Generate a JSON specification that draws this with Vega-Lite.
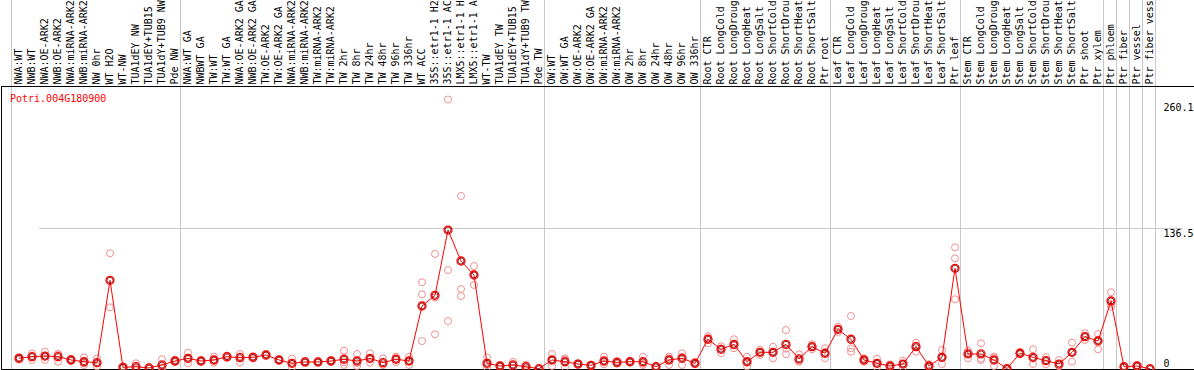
{
  "$schema": "https://vega.github.io/schema/vega-lite/v6.json",
  "width": 1193,
  "height": 283,
  "autosize": {"type": "none"},
  "padding": {"left": 1, "top": 86, "right": 0, "bottom": 1},
  "background": "white",
  "config": {"view": {"stroke": null}, "font": "DejaVu Sans Mono"},
  "title": {"text": "Potri.004G180900", "orient": "bottom", "anchor": "start", "frame": "group", "offset": -281, "dx": 9, "color": "#ff0000", "font": "DejaVu Sans Mono", "fontSize": 10, "fontWeight": "normal", "baseline": "top"},
  "data": {"values": [
    {"i": 1, "k": "01 NWA:WT", "grp": "NW", "mean": 10.3, "reps": [9.0, 10.5, 11.5]},
    {"i": 2, "k": "02 NWB:WT", "grp": "NW", "mean": 11.9, "reps": [8.7, 12.0, 15.0]},
    {"i": 3, "k": "03 NWA:OE-ARK2", "grp": "NW", "mean": 12.5, "reps": [8.7, 12.2, 16.7]},
    {"i": 4, "k": "04 NWB:OE-ARK2", "grp": "NW", "mean": 11.9, "reps": [7.0, 14.2, 14.5]},
    {"i": 5, "k": "05 NWA:miRNA-ARK2", "grp": "NW", "mean": 8.7, "reps": [7.8, 8.5, 9.8]},
    {"i": 6, "k": "06 NWB:miRNA-ARK2", "grp": "NW", "mean": 7.0, "reps": [3.9, 5.8, 11.3]},
    {"i": 7, "k": "07 NW 0hr", "grp": "NW", "mean": 6.1, "reps": [2.5, 5.5, 10.3]},
    {"i": 8, "k": "08 WT H2O", "grp": "NW", "mean": 85.6, "reps": [59.5, 111.7]},
    {"i": 9, "k": "09 WT-NW", "grp": "NW", "mean": 1.6, "reps": [0.8, 1.5, 2.5]},
    {"i": 10, "k": "10 TUA1dEY NW", "grp": "NW", "mean": 2.2, "reps": [0.4, 0.8, 5.5]},
    {"i": 11, "k": "11 TUA1dEY+TUB15 NW", "grp": "NW", "mean": 1.0, "reps": [0.5, 1.0, 1.5]},
    {"i": 12, "k": "12 TUA1dY+TUB9 NW", "grp": "NW", "mean": 3.9, "reps": [0.6, 1.6, 9.4]},
    {"i": 13, "k": "13 Pde NW", "grp": "NW", "mean": 7.7, "reps": [6.5, 7.5, 9.0]},
    {"i": 14, "k": "14 NWA:WT GA", "grp": "TW", "mean": 10.3, "reps": [5.5, 9.7, 15.7]},
    {"i": 15, "k": "15 NWBWT GA", "grp": "TW", "mean": 7.7, "reps": [6.8, 7.6, 8.7]},
    {"i": 16, "k": "16 TW:WT", "grp": "TW", "mean": 8.7, "reps": [6.1, 8.1, 11.9]},
    {"i": 17, "k": "17 TW:WT GA", "grp": "TW", "mean": 11.9, "reps": [10.5, 12.2, 13.0]},
    {"i": 18, "k": "18 NWA:OE-ARK2 GA", "grp": "TW", "mean": 10.9, "reps": [6.1, 12.1, 14.5]},
    {"i": 19, "k": "19 NWB:OE-ARK2 GA", "grp": "TW", "mean": 11.3, "reps": [10.0, 11.5, 12.4]},
    {"i": 20, "k": "20 TW:OE-ARK2", "grp": "TW", "mean": 13.5, "reps": [12.5, 13.8, 14.2]},
    {"i": 21, "k": "21 TW:OE-ARK2 GA", "grp": "TW", "mean": 8.7, "reps": [8.0, 8.7, 9.4]},
    {"i": 22, "k": "22 NWA:miRNA-ARK2 GA", "grp": "TW", "mean": 5.5, "reps": [1.6, 4.9, 10.0]},
    {"i": 23, "k": "23 NWB:miRNA-ARK2 GA", "grp": "TW", "mean": 6.8, "reps": [5.8, 6.8, 7.8]},
    {"i": 24, "k": "24 TW:miRNA-ARK2", "grp": "TW", "mean": 6.8, "reps": [6.0, 6.8, 7.6]},
    {"i": 25, "k": "25 TW:miRNA-ARK2", "grp": "TW", "mean": 7.7, "reps": [6.8, 7.7, 8.6]},
    {"i": 26, "k": "26 TW 2hr", "grp": "TW", "mean": 9.4, "reps": [3.9, 6.6, 17.7]},
    {"i": 27, "k": "27 TW 8hr", "grp": "TW", "mean": 7.7, "reps": [2.9, 5.7, 14.5]},
    {"i": 28, "k": "28 TW 24hr", "grp": "TW", "mean": 10.3, "reps": [6.1, 9.6, 15.2]},
    {"i": 29, "k": "29 TW 48hr", "grp": "TW", "mean": 6.1, "reps": [3.9, 4.1, 10.3]},
    {"i": 30, "k": "30 TW 96hr", "grp": "TW", "mean": 9.4, "reps": [6.5, 9.7, 12.0]},
    {"i": 31, "k": "31 TW 336hr", "grp": "TW", "mean": 7.7, "reps": [3.9, 7.5, 11.7]},
    {"i": 32, "k": "32 WT ACC", "grp": "TW", "mean": 60.8, "reps": [27.0, 72.1, 83.7]},
    {"i": 33, "k": "33 35S::etr1-1 H2O", "grp": "TW", "mean": 71.1, "reps": [33.5, 69.0, 111.0]},
    {"i": 34, "k": "34 35S::etr1-1 ACC", "grp": "TW", "mean": 134.1, "reps": [46.3, 95.5, 260.1]},
    {"i": 35, "k": "35 LMX5::etr1-1 H2O", "grp": "TW", "mean": 104.2, "reps": [70.4, 77.2, 167.0]},
    {"i": 36, "k": "36 LMX5::etr1-1 ACC", "grp": "TW", "mean": 90.7, "reps": [81.1, 91.5, 99.4]},
    {"i": 37, "k": "37 WT-TW", "grp": "TW", "mean": 5.5, "reps": [1.5, 3.8, 11.3]},
    {"i": 38, "k": "38 TUA1dEY TW", "grp": "TW", "mean": 2.9, "reps": [2.0, 2.8, 3.9]},
    {"i": 39, "k": "39 TUA1dEY+TUB15 TW", "grp": "TW", "mean": 3.9, "reps": [1.2, 3.5, 7.0]},
    {"i": 40, "k": "40 TUA1dY+TUB9 TW", "grp": "TW", "mean": 2.2, "reps": [0.4, 2.0, 4.2]},
    {"i": 41, "k": "41 Pde TW", "grp": "TW", "mean": 0.3, "reps": [0.1, 0.3, 0.5]},
    {"i": 42, "k": "42 OW:WT", "grp": "OW", "mean": 8.7, "reps": [2.9, 8.7, 14.5]},
    {"i": 43, "k": "43 OW:WT GA", "grp": "OW", "mean": 7.0, "reps": [1.5, 9.2, 10.3]},
    {"i": 44, "k": "44 OW:OE-ARK2", "grp": "OW", "mean": 4.8, "reps": [4.0, 4.8, 5.6]},
    {"i": 45, "k": "45 OW:OE-ARK2 GA", "grp": "OW", "mean": 3.5, "reps": [2.8, 3.5, 4.2]},
    {"i": 46, "k": "46 OW:miRNA-ARK2", "grp": "OW", "mean": 7.7, "reps": [4.5, 6.7, 11.9]},
    {"i": 47, "k": "47 OW:miRNA-ARK2", "grp": "OW", "mean": 6.4, "reps": [5.0, 6.4, 7.8]},
    {"i": 48, "k": "48 OW 2hr", "grp": "OW", "mean": 7.0, "reps": [6.2, 7.0, 7.8]},
    {"i": 49, "k": "49 OW 8hr", "grp": "OW", "mean": 7.0, "reps": [3.9, 5.2, 11.9]},
    {"i": 50, "k": "50 OW 24hr", "grp": "OW", "mean": 2.2, "reps": [1.5, 2.2, 2.9]},
    {"i": 51, "k": "51 OW 48hr", "grp": "OW", "mean": 8.7, "reps": [3.9, 10.3, 11.9]},
    {"i": 52, "k": "52 OW 96hr", "grp": "OW", "mean": 10.3, "reps": [3.9, 11.8, 15.2]},
    {"i": 53, "k": "53 OW 336hr", "grp": "OW", "mean": 5.5, "reps": [4.5, 5.5, 7.0]},
    {"i": 54, "k": "54 Root CTR", "grp": "Root", "mean": 28.7, "reps": [24.8, 29.5, 31.8]},
    {"i": 55, "k": "55 Root LongCold", "grp": "Root", "mean": 19.0, "reps": [15.2, 19.8, 22.0]},
    {"i": 56, "k": "56 Root LongDrought", "grp": "Root", "mean": 23.8, "reps": [20.0, 22.7, 28.7]},
    {"i": 57, "k": "57 Root LongHeat", "grp": "Root", "mean": 7.0, "reps": [2.5, 6.6, 11.9]},
    {"i": 58, "k": "58 Root LongSalt", "grp": "Root", "mean": 16.1, "reps": [13.5, 16.2, 18.6]},
    {"i": 59, "k": "59 Root ShortCold", "grp": "Root", "mean": 16.1, "reps": [10.3, 16.5, 21.5]},
    {"i": 60, "k": "60 Root ShortDrought", "grp": "Root", "mean": 23.8, "reps": [14.2, 19.6, 37.6]},
    {"i": 61, "k": "61 Root ShortHeat", "grp": "Root", "mean": 9.7, "reps": [7.0, 8.0, 14.2]},
    {"i": 62, "k": "62 Root ShortSalt", "grp": "Root", "mean": 21.5, "reps": [19.0, 21.5, 24.0]},
    {"i": 63, "k": "63 Ptr root", "grp": "Root", "mean": 15.2, "reps": [10.3, 15.3, 20.0]},
    {"i": 64, "k": "64 Leaf CTR", "grp": "Leaf", "mean": 38.3, "reps": [35.8, 38.3, 40.8]},
    {"i": 65, "k": "65 Leaf LongCold", "grp": "Leaf", "mean": 28.7, "reps": [16.7, 20.0, 51.1]},
    {"i": 66, "k": "66 Leaf LongDrought", "grp": "Leaf", "mean": 8.7, "reps": [7.0, 8.7, 10.4]},
    {"i": 67, "k": "67 Leaf LongHeat", "grp": "Leaf", "mean": 5.5, "reps": [1.6, 5.0, 9.9]},
    {"i": 68, "k": "68 Leaf LongSalt", "grp": "Leaf", "mean": 2.9, "reps": [1.6, 2.6, 4.5]},
    {"i": 69, "k": "69 Leaf ShortCold", "grp": "Leaf", "mean": 4.8, "reps": [1.5, 4.9, 8.0]},
    {"i": 70, "k": "70 Leaf ShortDrought", "grp": "Leaf", "mean": 21.5, "reps": [16.7, 22.4, 25.4]},
    {"i": 71, "k": "71 Leaf ShortHeat", "grp": "Leaf", "mean": 2.9, "reps": [1.6, 2.4, 4.7]},
    {"i": 72, "k": "72 Leaf ShortSalt", "grp": "Leaf", "mean": 11.3, "reps": [4.8, 10.8, 18.3]},
    {"i": 73, "k": "73 Ptr leaf", "grp": "Leaf", "mean": 97.2, "reps": [67.3, 106.8, 117.4]},
    {"i": 74, "k": "74 Stem CTR", "grp": "Stem", "mean": 14.5, "reps": [10.3, 15.5, 17.7]},
    {"i": 75, "k": "75 Stem LongCold", "grp": "Stem", "mean": 14.5, "reps": [8.7, 10.0, 24.8]},
    {"i": 76, "k": "76 Stem LongDrought", "grp": "Stem", "mean": 8.7, "reps": [2.9, 11.3, 11.9]},
    {"i": 77, "k": "77 Stem LongHeat", "grp": "Stem", "mean": 0.3, "reps": [0.1, 0.3, 0.5]},
    {"i": 78, "k": "78 Stem LongSalt", "grp": "Stem", "mean": 15.2, "reps": [14.0, 15.2, 16.4]},
    {"i": 79, "k": "79 Stem ShortCold", "grp": "Stem", "mean": 11.3, "reps": [4.8, 10.1, 19.0]},
    {"i": 80, "k": "80 Stem ShortDrought", "grp": "Stem", "mean": 8.0, "reps": [4.5, 8.0, 11.5]},
    {"i": 81, "k": "81 Stem ShortHeat", "grp": "Stem", "mean": 4.8, "reps": [2.8, 2.9, 8.7]},
    {"i": 82, "k": "82 Stem ShortSalt", "grp": "Stem", "mean": 16.1, "reps": [7.0, 15.9, 25.4]},
    {"i": 83, "k": "83 Ptr shoot", "grp": "Stem", "mean": 31.2, "reps": [28.0, 31.1, 34.5]},
    {"i": 84, "k": "84 Ptr xylem", "grp": "Stem", "mean": 27.0, "reps": [19.0, 28.2, 33.8]},
    {"i": 85, "k": "85 Ptr phloem", "grp": "phloem", "mean": 65.6, "reps": [60.1, 62.7, 74.0]},
    {"i": 86, "k": "86 Ptr fiber", "grp": "fiber", "mean": 2.2, "reps": [1.5, 2.2, 2.9]},
    {"i": 87, "k": "87 Ptr vessel", "grp": "vessel", "mean": 2.9, "reps": [2.0, 2.9, 3.8]},
    {"i": 88, "k": "88 Ptr fiber vessel", "grp": "fibervessel", "mean": 0.3, "reps": [0.1, 0.3, 0.5]}
  ]},
  "layer": [
    {
      "transform": [
        {"joinaggregate": [{"op": "max", "field": "i", "as": "last"}], "groupby": ["grp"]},
        {"filter": "datum.i === datum.last"}
      ],
      "mark": {"type": "rule", "color": "#c8c8c8", "strokeWidth": 1, "xOffset": -1},
      "encoding": {
        "x": {"field": "k", "type": "nominal", "bandPosition": 1,
          "scale": {"type": "band", "paddingInner": 0, "paddingOuter": 0, "range": [11.5, 1155.5]},
          "axis": null},
        "y": {"datum": -2, "type": "quantitative",
          "scale": {"domain": [0, 273.1], "nice": false, "zero": false},
          "axis": {"orient": "left", "title": null, "labels": false, "ticks": false, "grid": false, "domain": true, "domainColor": "#000000", "domainWidth": 1}},
        "y2": {"datum": 360}
      }
    },
    {
      "transform": [{"filter": "datum.i === 1"}],
      "mark": {"type": "rule", "color": "#c8c8c8", "strokeWidth": 1, "xOffset": -1},
      "encoding": {
        "x": {"field": "k", "type": "nominal", "bandPosition": 0, "axis": null},
        "y": {"datum": -2, "type": "quantitative", "axis": null},
        "y2": {"datum": 360}
      }
    },
    {
      "transform": [{"filter": "datum.i === 1"}],
      "mark": {"type": "rule", "color": "#000000", "strokeWidth": 1, "yOffset": 0.5},
      "encoding": {
        "y": {"datum": 273.1, "type": "quantitative", "axis": null}
      }
    },
    {
      "transform": [{"filter": "datum.i === 1"}],
      "mark": {"type": "rule", "color": "#000000", "strokeWidth": 1, "yOffset": 0.5},
      "encoding": {
        "y": {"datum": 0, "type": "quantitative", "axis": null}
      }
    },
    {
      "transform": [{"flatten": ["reps"]}],
      "mark": {"type": "point", "shape": "circle", "size": 49, "filled": false, "color": "#f09090", "stroke": "#f09090", "strokeWidth": 1, "opacity": 1},
      "encoding": {
        "x": {"field": "k", "type": "nominal",
          "axis": {"orient": "top", "title": null, "labelAngle": -90, "labelAlign": "left", "labelBaseline": "middle", "labelPadding": 2, "ticks": false, "grid": false, "domain": false, "labelFont": "DejaVu Sans Mono", "labelFontSize": 10, "labelColor": "#000000", "labelExpr": "substring(datum.label, 3)", "labelOverlap": false, "labelLimit": 300, "labelBound": false}},
        "y": {"field": "reps", "type": "quantitative",
          "axis": {"orient": "right", "offset": -33, "title": null, "values": [0, 136.5, 260.1], "ticks": false, "domain": false, "grid": true,
            "gridColor": {"condition": {"test": "datum.value === 136.5", "value": "#c8c8c8"}, "value": "transparent"},
            "labelExpr": "datum.value === 0 ? '0' : format(datum.value, '.1f')",
            "labelAlign": "left", "labelPadding": 2,
            "labelBaseline": {"condition": {"test": "datum.value === 0", "value": "bottom"}, "value": "top"},
            "labelOffset": {"condition": [{"test": "datum.value === 0", "value": -1}, {"test": "datum.value > 200", "value": 3}], "value": 1},
            "labelFont": "DejaVu Sans Mono", "labelFontSize": 10, "labelColor": "#000000", "labelFlush": false, "labelOverlap": false, "labelBound": false}}
      }
    },
    {
      "mark": {"type": "line", "color": "#ff0000", "strokeWidth": 1},
      "encoding": {
        "x": {"field": "k", "type": "nominal", "axis": null},
        "y": {"field": "mean", "type": "quantitative", "axis": null}
      }
    },
    {
      "mark": {"type": "point", "shape": "circle", "size": 64, "filled": false, "color": "#ff0000", "stroke": "#ff0000", "strokeWidth": 1.3, "opacity": 1},
      "encoding": {
        "x": {"field": "k", "type": "nominal", "axis": null},
        "y": {"field": "mean", "type": "quantitative", "axis": null}
      }
    },
    {
      "mark": {"type": "point", "shape": "circle", "size": 36, "filled": false, "color": "#7a0000", "stroke": "#7a0000", "strokeWidth": 0.8, "opacity": 1},
      "encoding": {
        "x": {"field": "k", "type": "nominal", "axis": null},
        "y": {"field": "mean", "type": "quantitative", "axis": null}
      }
    }
  ],
  "resolve": {"axis": {"x": "independent", "y": "independent"}}
}
